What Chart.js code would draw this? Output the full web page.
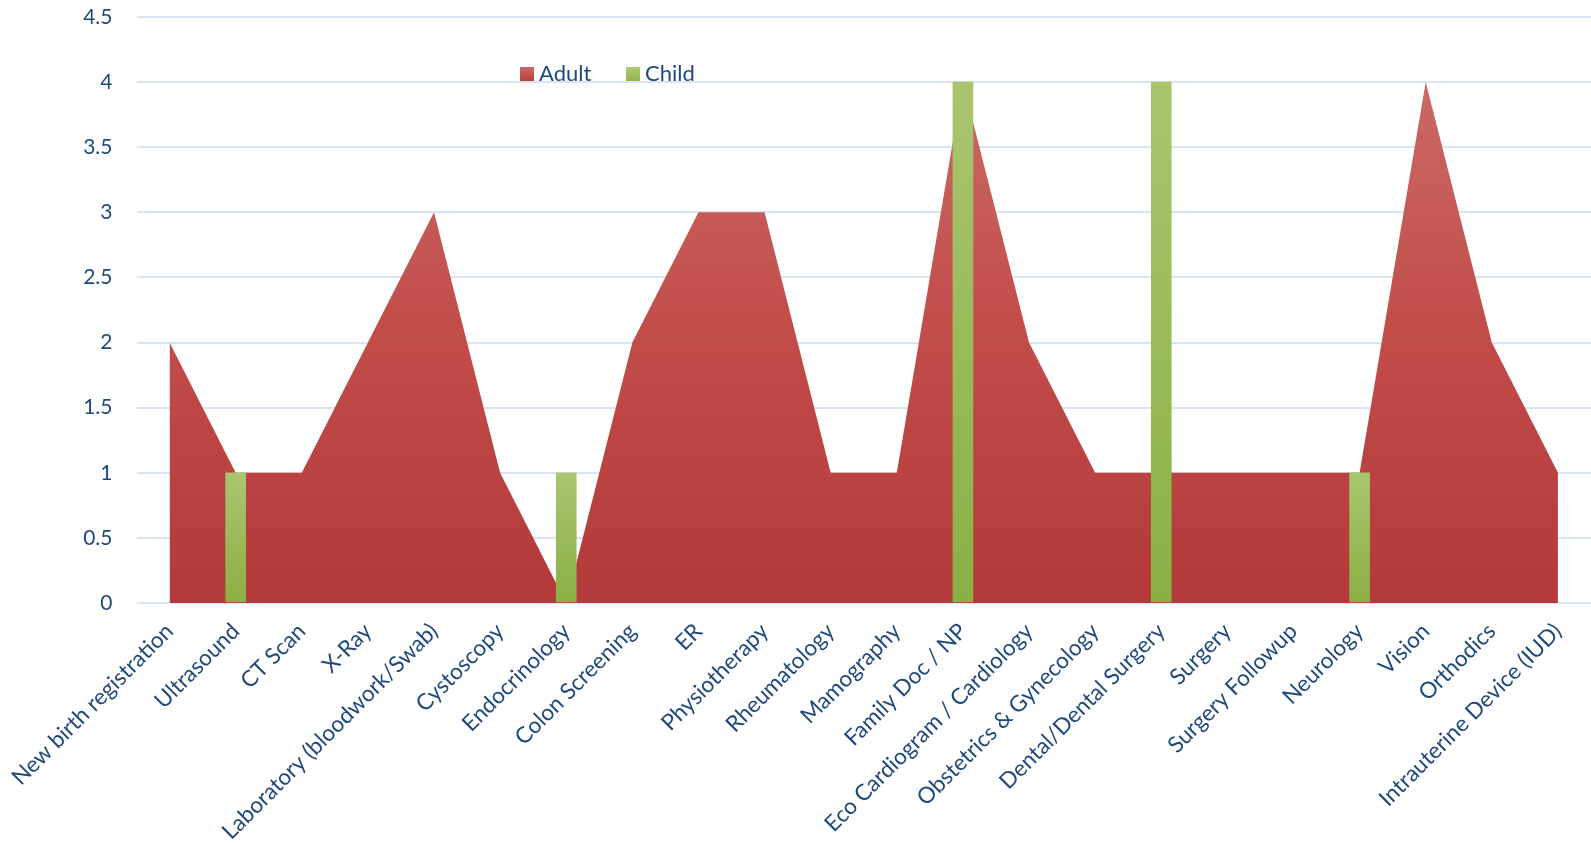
<!DOCTYPE html>
<html>
<head>
<meta charset="utf-8">
<script src="https://cdn.jsdelivr.net/npm/chart.js@4.4.0/dist/chart.umd.min.js"></script>
<style>
  html, body { margin: 0; padding: 0; background: #ffffff; }
  #wrap { width: 1591px; height: 844px; position: relative; }
</style>
</head>
<body>
<div id="wrap"><canvas id="c"></canvas></div>
<script>
const categories = [
  "New birth registration", "Ultrasound", "CT Scan", "X-Ray",
  "Laboratory (bloodwork/Swab)", "Cystoscopy", "Endocrinology", "Colon Screening",
  "ER", "Physiotherapy", "Rheumatology", "Mamography", "Family Doc / NP",
  "Eco Cardiogram / Cardiology", "Obstetrics & Gynecology", "Dental/Dental Surgery",
  "Surgery", "Surgery Followup", "Neurology", "Vision", "Orthodics",
  "Intrauterine Device (IUD)"
];
const adultValues = [2, 1, 1, 2, 3, 1, 0, 2, 3, 3, 1, 1, 4, 2, 1, 1, 1, 1, 1, 4, 2, 1];
const childValues = [null, 1, null, null, null, null, 1, null, null, null, null, null, 4, null, null, 4, null, null, 1, null, null, null];
const seriesNames = ["Adult", "Child"];
const yTicks = { min: 0, max: 4.5, step: 0.5 };

const textColor = "#1F497D";
const gridColor = "#D9E3F1";
const fontFamily = "Lato, 'Open Sans', sans-serif";

function adultFill(ctx) {
  const chart = ctx.chart;
  const area = chart.chartArea;
  if (!area) return "#C0504D";
  const y = chart.scales.y;
  const g = chart.ctx.createLinearGradient(0, y.getPixelForValue(4), 0, y.getPixelForValue(0));
  g.addColorStop(0, "#CB6A66");
  g.addColorStop(0.45, "#C24E4A");
  g.addColorStop(1, "#B4393A");
  return g;
}
function childFill(ctx) {
  const chart = ctx.chart;
  const area = chart.chartArea;
  if (!area || ctx.type !== "data") return "#9BBB59";
  const v = ctx.raw;
  if (v == null) return "#9BBB59";
  const y = chart.scales.y;
  const g = chart.ctx.createLinearGradient(0, y.getPixelForValue(v), 0, y.getPixelForValue(0));
  g.addColorStop(0, "#A9C66F");
  g.addColorStop(1, "#8BAF45");
  return g;
}

const legendPlugin = {
  id: "customLegend",
  afterDraw(chart) {
    const c = chart.ctx;
    c.save();
    c.font = "22px " + fontFamily;
    c.textBaseline = "middle";
    c.textAlign = "left";
    const items = [
      { name: seriesNames[0], grad: ["#CC6A66", "#B83F3C"], x: 520 },
      { name: seriesNames[1], grad: ["#AECB76", "#93B64F"], x: 626 }
    ];
    const yMid = 74;
    items.forEach(it => {
      const g = c.createLinearGradient(0, yMid - 7, 0, yMid + 7);
      g.addColorStop(0, it.grad[0]);
      g.addColorStop(1, it.grad[1]);
      c.fillStyle = g;
      c.fillRect(it.x, yMid - 7, 14, 14);
      c.fillStyle = textColor;
      c.fillText(it.name, it.x + 19, yMid);
    });
    c.restore();
  }
};

new Chart(document.getElementById("c"), {
  type: "bar",
  data: {
    labels: categories,
    datasets: [
      {
        type: "bar",
        label: seriesNames[1],
        data: childValues,
        backgroundColor: childFill,
        borderWidth: 0,
        barThickness: 20,
        order: 0
      },
      {
        type: "line",
        label: seriesNames[0],
        data: adultValues,
        backgroundColor: adultFill,
        borderWidth: 0,
        borderColor: "rgba(0,0,0,0)",
        pointRadius: 0,
        tension: 0,
        fill: "origin",
        order: 1
      }
    ]
  },
  options: {
    responsive: true,
    maintainAspectRatio: false,
    animation: false,
    layout: { padding: { top: 17, left: 0, right: 0, bottom: 0 } },
    plugins: {
      legend: { display: false },
      tooltip: { enabled: false }
    },
    scales: {
      x: {
        offset: true,
        grid: { display: false, drawTicks: false },
        border: { display: false },
        ticks: {
          autoSkip: false,
          maxRotation: 45,
          minRotation: 45,
          padding: 15,
          color: textColor,
          font: { family: fontFamily, size: 22.5 }
        },
        afterFit(scale) {
          scale.height = 241;
          scale.paddingTop = 0; scale.paddingBottom = 0;
          scale.paddingLeft = 0; scale.paddingRight = 0;
        }
      },
      y: {
        min: yTicks.min,
        max: yTicks.max,
        grid: { color: gridColor, lineWidth: 2, drawTicks: false },
        border: { display: false },
        ticks: {
          stepSize: yTicks.step,
          padding: 24,
          color: textColor,
          font: { family: fontFamily, size: 21 },
          callback: (v) => String(Number(v))
        },
        afterFit(scale) { scale.width = 136.5; scale.paddingTop = 0; scale.paddingBottom = 0; }
      }
    }
  },
  plugins: [legendPlugin]
});
</script>
</body>
</html>
